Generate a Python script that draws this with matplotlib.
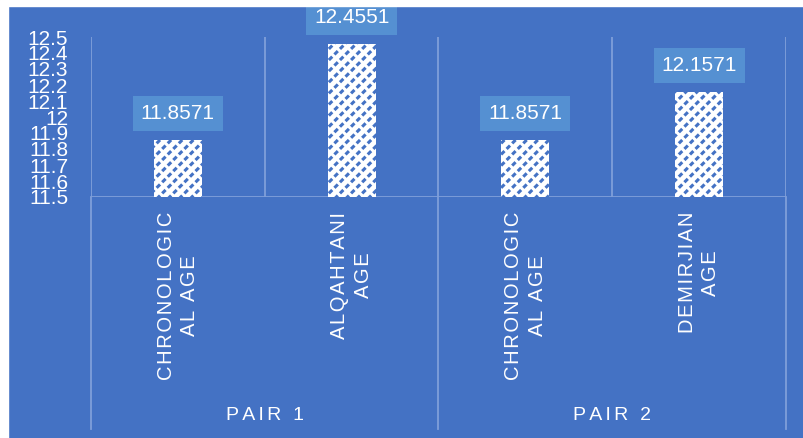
import numpy as np
import matplotlib
matplotlib.use('Agg')
from matplotlib import pyplot as plt
from matplotlib import transforms
from matplotlib.patches import Rectangle
from matplotlib.lines import Line2D

# data
groups = ['PAIR 1', 'PAIR 2']
categories = ['CHRONOLOGIC\nAL AGE', 'ALQAHTANI\nAGE', 'CHRONOLOGIC\nAL AGE', 'DEMIRJIAN\nAGE']
values = [11.8571, 12.4551, 11.8571, 12.1571]
yticks = [11.5, 11.6, 11.7, 11.8, 11.9, 12, 12.1, 12.2, 12.3, 12.4, 12.5]

blue = '#4472C4'
boxc = '#5590D2'
gridc = '#7F9FDA'
W, H = 804, 438

plt.rcParams['font.family'] = ['Liberation Sans', 'DejaVu Sans']
plt.rcParams['hatch.linewidth'] = 2.2


def spaced(s, sp='\u200a'):
    # fake letter spacing
    return '\n'.join(sp.join(line) for line in s.split('\n'))


fig = plt.figure(figsize=(W / 100, H / 100), dpi=100)
fig.patch.set_facecolor(blue)
# white strips at the top and left edge
fig.patches.append(Rectangle((0, 1 - 6 / H), 1, 6 / H, transform=fig.transFigure, color='white', zorder=0))
fig.patches.append(Rectangle((0, 0), 8 / W, 1, transform=fig.transFigure, color='white', zorder=0))

x0, x1, ytop, ybot = 91, 786, 37, 197
ax = fig.add_axes([x0 / W, (H - ybot) / H, (x1 - x0) / W, (ybot - ytop) / H])
ax.set_facecolor(blue)
for s in ax.spines.values():
    s.set_visible(False)

n = len(values)
x = np.arange(n)
heights = np.array(values) - 11.5
bw = 48 / 174
ax.bar(x, heights, bottom=11.5, width=bw, color='white',
       edgecolor=blue, linewidth=0, hatch='///')
# white cross-hatch on top breaks the stripes into dots
ax.bar(x, heights, bottom=11.5, width=bw, color='none',
       edgecolor='white', linewidth=0, hatch='\\\\\\')
ax.set_xlim(-0.5, n - 0.5)
ax.set_ylim(11.5, 12.5)
ax.set_yticks(yticks)
ax.set_yticklabels(['%g' % t for t in yticks], color='white', fontsize=15)
ax.tick_params(axis='y', length=0, pad=16.5)
ax.set_xticks([])

# separators inside plot
for b in np.arange(-0.5, n, 1):
    ax.axvline(b, color=gridc, lw=1.3, zorder=0)
ax.axhline(11.5, color=gridc, lw=1.3, zorder=0)

# value labels in boxes
for xi, v in zip(x, values):
    ax.annotate('%.4f' % v, (xi, v), xytext=(0, 19), textcoords='offset points',
                ha='center', va='center', color='white', fontsize=15,
                bbox=dict(boxstyle='square,pad=0.38', fc=boxc, ec='none'))

# category labels below axis
tr = transforms.blended_transform_factory(ax.transData, fig.transFigure)
for xi, c in zip(x, categories):
    ax.text(xi, (H - 212) / H, spaced(c), transform=tr, rotation=90, ha='center', va='top',
            multialignment='center', color='white', fontsize=14.5, linespacing=1.3)

# group separators and labels
for b in [-0.5, 1.5, 3.5]:
    fig.lines.append(Line2D([tr.transform((b, 0))[0] / W] * 2, [(H - ybot) / H, (H - 429) / H],
                            transform=fig.transFigure, color=gridc, lw=1.3))
for gi, g in enumerate(groups):
    ax.text(gi * 2 + 0.5, (H - 416) / H, spaced(g, '\u200a\u200a'), transform=tr,
            ha='center', va='center', color='white', fontsize=14)

fig.savefig('out.png', dpi=100, facecolor=fig.get_facecolor())
